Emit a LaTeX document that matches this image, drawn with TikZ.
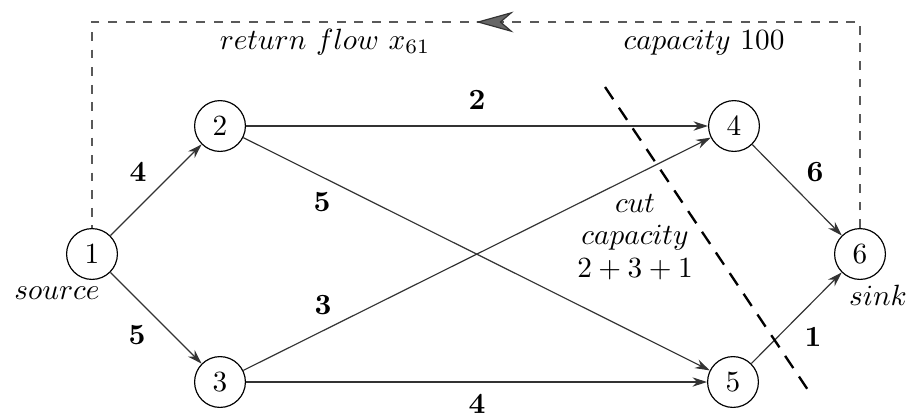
\documentclass[tikz,border=0pt]{standalone}
\usepackage{amsmath,amssymb}
\usepackage{tikz}
\usetikzlibrary{arrows.meta, positioning, decorations.markings}

\begin{document}
\begin{tikzpicture}[
  every node/.style={font=\normalsize},
  vert/.style={draw, circle, minimum size=0.61cm, inner sep=0pt},
  arr/.style={-{Stealth[length=5pt, width=3.2pt]}, draw=black!80},
  lab/.style={},
  ret/.style={dashed, draw=black!65,
    postaction={decorate, decoration={markings, mark=at position 0.5 with
      {\arrow{Stealth[length=0.45cm, width=0.25cm, fill=black!60, color=black!80]}}}}},
  cutline/.style={line width=0.8pt, dash pattern=on 5pt off 3.5pt}
]
\useasboundingbox (0,0) rectangle (10.944,5.004);

%% vertices
\node[vert] (n1) at (1.104, 1.956) {1};
\node[vert] (n2) at (2.640, 3.492) {2};
\node[vert] (n3) at (2.640, 0.420) {3};
\node[vert] (n4) at (8.808, 3.492) {4};
\node[vert] (n5) at (8.796, 0.420) {5};
\node[vert] (n6) at (10.32, 1.956) {6};

\node[lab] (src)  at (0.684, 1.488) {$source$};
\node[lab] (snk)  at (10.536,1.464) {$sink$};

%% arcs
\foreach \a/\b in {n1/n2, n1/n3, n2/n4, n2/n5, n3/n4, n3/n5, n4/n6, n5/n6}
  \draw[arr] (\a)--(\b);

%% arc capacities
\node[lab] (c12) at (1.656, 2.940) {$\mathbf{4}$};
\node[lab] (c13) at (1.644, 0.984) {$\mathbf{5}$};
\node[lab] (c24) at (5.724, 3.804) {$\mathbf{2}$};
\node[lab] (c25) at (3.864, 2.580) {$\mathbf{5}$};
\node[lab] (c34) at (3.876, 1.344) {$\mathbf{3}$};
\node[lab] (c35) at (5.724, 0.150) {$\mathbf{4}$};
\node[lab] (c46) at (9.780, 2.940) {$\mathbf{6}$};
\node[lab] (c56) at (9.756, 0.960) {$\mathbf{1}$};

%% return arc
\draw[ret] (n6.north) |- (1.104, 4.740) -- (n1.north);
\node[lab] (rflow) at (3.900, 4.500) {$return\ flow\ x_{61}$};
\node[lab] (rcap)  at (8.448, 4.490) {$capacity\ 100$};

%% cut
\coordinate (cuttop) at (7.26, 3.96);
\coordinate (cutbot) at (9.72, 0.288);
\draw[cutline] (cuttop) -- (cutbot);
\node[lab, align=center] (cutlab) at (7.62, 2.16)
  {$cut$\\[-1pt]$capacity$\\[-1pt]$2+3+1$};

\end{tikzpicture}
\end{document}
